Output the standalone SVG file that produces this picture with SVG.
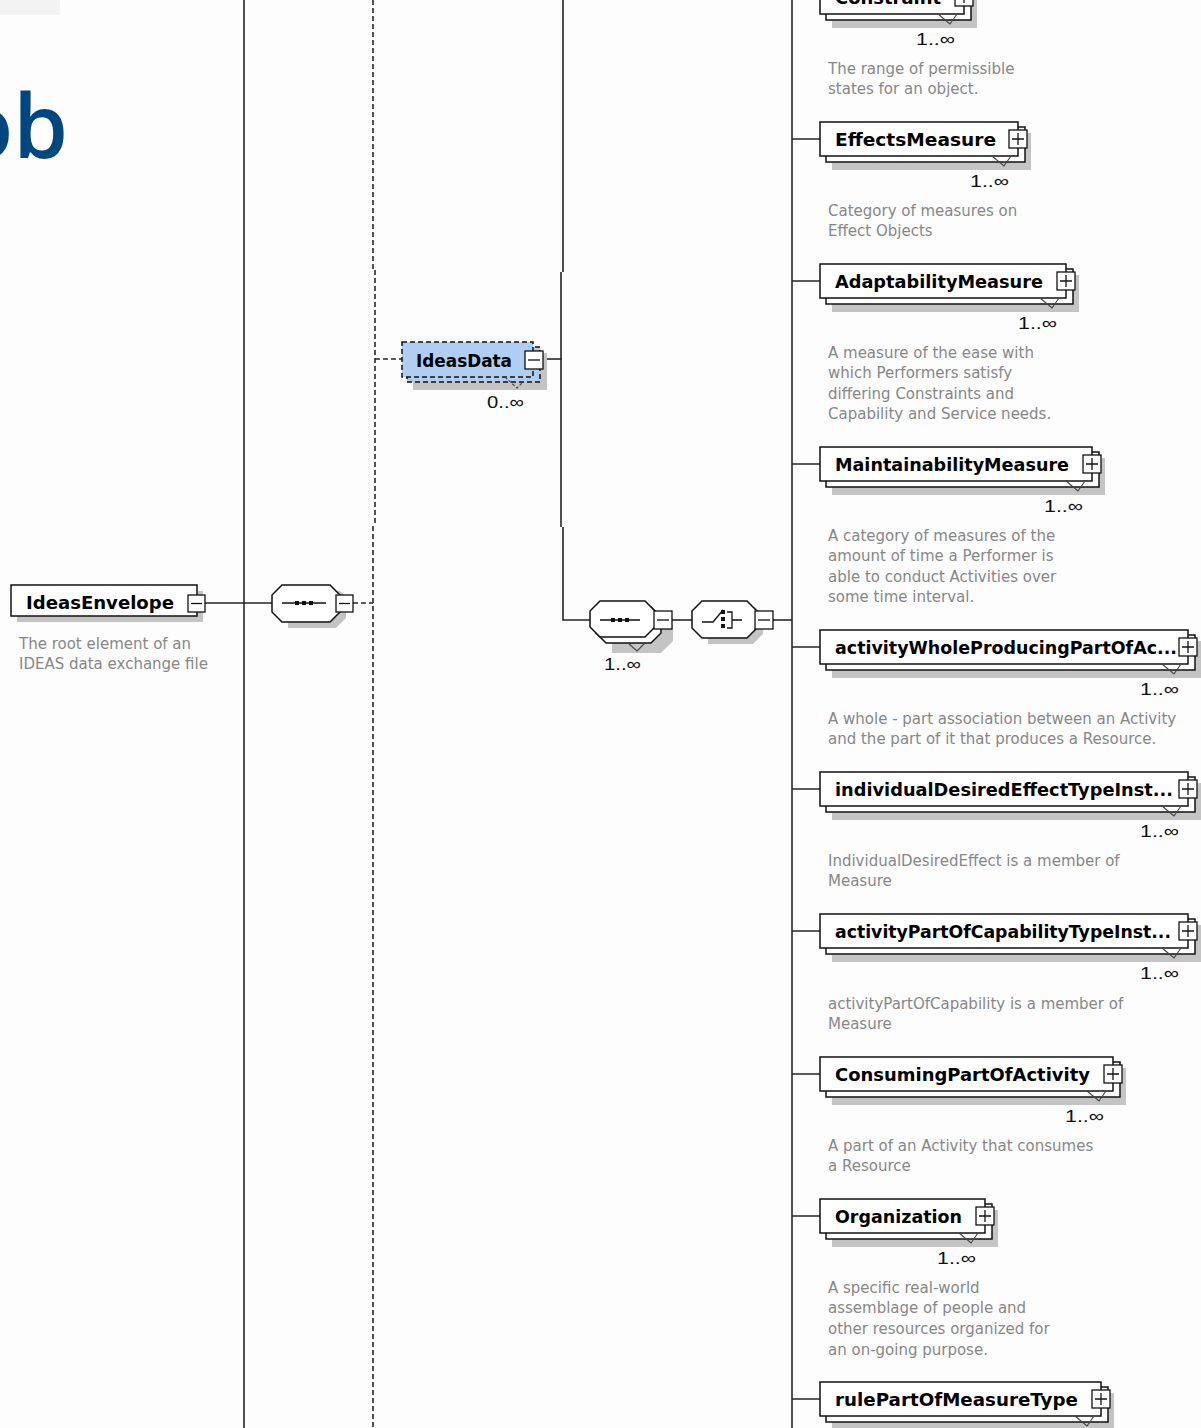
<svg xmlns="http://www.w3.org/2000/svg" width="1201" height="1428" viewBox="0 0 1201 1428">
  <style>
    .bg { fill: #fdfdfd; }
    .line { stroke: #262626; stroke-width: 1.6; fill: none; }
    .dash { stroke-dasharray: 5 3; }
    .box { fill: #ffffff; stroke: #111111; stroke-width: 1.5; }
    .dbox { fill: #b0cdf2; stroke: #111111; stroke-width: 1.5; stroke-dasharray: 5 3; }
    .shadow { fill: #c4c4c4; }
    .tri { stroke: #444444; stroke-width: 1.1; fill: none; }
    .btn { fill: #ffffff; stroke: #111111; stroke-width: 1.3; }
    .sign { stroke: #111111; stroke-width: 1.3; fill: none; }
    .lbl { font-family: "DejaVu Sans", Verdana, sans-serif; font-weight: bold; font-size: 18px; fill: #000000; }
    .desc { font-family: "DejaVu Sans", Tahoma, sans-serif; font-size: 15px; fill: #878787; }
    .card { font-family: "Liberation Sans", Arial, sans-serif; font-size: 17px; fill: #111111; }
    .logo { font-family: "Open Sans", "Liberation Sans", sans-serif; font-weight: 600; font-size: 88px; fill: #00467f; }
    .sym { fill: #111111; }
  </style>

  <rect class="bg" x="0" y="0" width="1201" height="1428"/>
  <rect x="0" y="0" width="60" height="15" fill="#f3f3f3"/>
  <text class="logo" x="68" y="158" text-anchor="end">ob</text>

  <!-- connectors -->
  <g id="connectors">
    <line class="line" x1="244" y1="0" x2="244" y2="1428"/>
    <path class="line dash" d="M373,0 V270 M375,270 V526 M373,526 V1428"/>
    <path class="line" d="M563,0 V272 M561,272 V527 M563,527 V620 H590"/>
    <line class="line" x1="205" y1="603" x2="272" y2="603"/>
    <line class="line dash" x1="353" y1="603" x2="373" y2="603"/>
    <line class="line dash" x1="375" y1="359" x2="402" y2="359"/>
    <line class="line" x1="543" y1="359" x2="562" y2="359"/>
    <line class="line" x1="672" y1="620" x2="692" y2="620"/>
    <line class="line" x1="773" y1="620" x2="792" y2="620"/>
    <line class="line" x1="792" y1="0" x2="792" y2="1428"/>
    <path class="line" d="M792,-3 H820 M792,139 H820 M792,281 H820 M792,464 H820 M792,647 H820 M792,789 H820 M792,931 H820 M792,1074 H820 M792,1216 H820 M792,1399 H820"/>
  </g>

  <!-- root element -->
  <g id="IdeasEnvelope">
    <rect class="shadow" x="17" y="591" width="186" height="31"/>
    <rect class="box" x="11" y="585" width="186" height="31"/>
    <text class="lbl" x="26" y="609" textLength="148" lengthAdjust="spacingAndGlyphs">IdeasEnvelope</text>
    <rect class="btn" x="188" y="595" width="17" height="17"/>
    <line class="sign" x1="191" y1="603.5" x2="202" y2="603.5"/>
    <text class="desc" x="19" y="649">The root element of an</text>
    <text class="desc" x="19" y="669">IDEAS data exchange file</text>
  </g>

  <!-- sequence under IdeasEnvelope -->
  <g id="seq-envelope">
    <polygon class="shadow" points="288,591 340,591 346,597 346,618 336,628 288,628"/>
    <polygon class="box" points="282,585 330,585 340,595 340,612 330,622 282,622 272,612 272,595"/>
    <line class="sign" x1="282" y1="603" x2="326" y2="603"/>
    <rect class="sym" x="295" y="601" width="4" height="4"/>
    <rect class="sym" x="302" y="601" width="4" height="4"/>
    <rect class="sym" x="309" y="601" width="4" height="4"/>
    <rect class="btn" x="336" y="595" width="17" height="17"/>
    <line class="sign" x1="339" y1="603.5" x2="350" y2="603.5"/>
  </g>

  <!-- optional data element -->
  <g id="IdeasData">
    <rect class="shadow" x="413" y="353" width="134" height="37"/>
    <rect class="dbox" x="407" y="347" width="133" height="35"/>
    <rect class="dbox" x="402" y="342" width="131" height="35"/>
    <polyline class="tri" points="505,377 517,388 523,382" stroke-dasharray="3 2"/>
    <text class="lbl" x="416" y="367" textLength="96" lengthAdjust="spacingAndGlyphs">IdeasData</text>
    <rect class="btn" x="525" y="351" width="18" height="18"/>
    <line class="sign" x1="528" y1="360" x2="540" y2="360"/>
    <text class="card" x="487" y="408" textLength="37" lengthAdjust="spacingAndGlyphs">0..∞</text>
  </g>

  <!-- repeated sequence -->
  <g id="seq-data">
    <polygon class="shadow" points="612,613 661,613 673,625 673,641 661,653 612,653"/>
    <polygon class="box" points="606,607 651,607 661,617 661,633 651,643 606,643 596,633 596,617"/>
    <polygon class="box" points="600,601 645,601 655,611 655,627 645,637 600,637 590,627 590,611"/>
    <polyline class="tri" points="628,643 637,651 645,643"/>
    <line class="sign" x1="600" y1="620" x2="640" y2="620"/>
    <rect class="sym" x="611" y="618" width="4" height="4"/>
    <rect class="sym" x="618" y="618" width="4" height="4"/>
    <rect class="sym" x="625" y="618" width="4" height="4"/>
    <rect class="btn" x="654" y="611" width="18" height="18"/>
    <line class="sign" x1="657" y1="620" x2="669" y2="620"/>
    <text class="card" x="604" y="670" textLength="37" lengthAdjust="spacingAndGlyphs">1..∞</text>
  </g>

  <!-- choice -->
  <g id="choice">
    <polygon class="shadow" points="708,607 755,607 763,615 763,634 753,644 708,644"/>
    <polygon class="box" points="702,601 747,601 757,611 757,628 747,638 702,638 692,628 692,611"/>
    <polyline class="sign" points="702,622 713,622 723,610"/>
    <rect class="sym" x="721" y="610" width="4" height="4"/>
    <rect class="sym" x="721" y="617" width="4" height="4"/>
    <rect class="sym" x="721" y="624" width="4" height="4"/>
    <path class="sign" d="M727,612 H732 V628 H727 M732,620 H742"/>
    <rect class="btn" x="755" y="611" width="18" height="18"/>
    <line class="sign" x1="758" y1="620" x2="770" y2="620"/>
  </g>

  <!-- child elements -->
  <g id="Constraint">
    <rect class="shadow" x="832" y="-9" width="145" height="37"/>
    <rect class="box" x="826" y="-15" width="145" height="35"/>
    <rect class="box" x="820" y="-20" width="144" height="34"/>
    <polyline class="tri" points="938,14 950,24 957,14"/>
    <text class="lbl" x="835" y="4" textLength="106" lengthAdjust="spacingAndGlyphs">Constraint</text>
    <rect class="btn" x="955" y="-12" width="18" height="18"/>
    <path class="sign" d="M958,-3 H970 M964,-9 V3"/>
    <text class="card" x="916" y="45" textLength="39" lengthAdjust="spacingAndGlyphs">1..∞</text>
    <text class="desc" x="828" y="74">The range of permissible</text>
    <text class="desc" x="828" y="94">states for an object.</text>
  </g>

  <g id="EffectsMeasure">
    <rect class="shadow" x="832" y="133" width="199" height="37"/>
    <rect class="box" x="826" y="127" width="199" height="35"/>
    <rect class="box" x="820" y="122" width="198" height="34"/>
    <polyline class="tri" points="992,156 1004,166 1011,156"/>
    <text class="lbl" x="835" y="146" textLength="161" lengthAdjust="spacingAndGlyphs">EffectsMeasure</text>
    <rect class="btn" x="1009" y="130" width="18" height="18"/>
    <path class="sign" d="M1012,139 H1024 M1018,133 V145"/>
    <text class="card" x="970" y="187" textLength="39" lengthAdjust="spacingAndGlyphs">1..∞</text>
    <text class="desc" x="828" y="216">Category of measures on</text>
    <text class="desc" x="828" y="236">Effect Objects</text>
  </g>

  <g id="AdaptabilityMeasure">
    <rect class="shadow" x="832" y="275" width="247" height="37"/>
    <rect class="box" x="826" y="269" width="247" height="35"/>
    <rect class="box" x="820" y="264" width="246" height="34"/>
    <polyline class="tri" points="1040,298 1052,308 1059,298"/>
    <text class="lbl" x="835" y="288" textLength="208" lengthAdjust="spacingAndGlyphs">AdaptabilityMeasure</text>
    <rect class="btn" x="1057" y="272" width="18" height="18"/>
    <path class="sign" d="M1060,281 H1072 M1066,275 V287"/>
    <text class="card" x="1018" y="329" textLength="39" lengthAdjust="spacingAndGlyphs">1..∞</text>
    <text class="desc" x="828" y="358">A measure of the ease with</text>
    <text class="desc" x="828" y="378">which Performers satisfy</text>
    <text class="desc" x="828" y="399">differing Constraints and</text>
    <text class="desc" x="828" y="419">Capability and Service needs.</text>
  </g>

  <g id="MaintainabilityMeasure">
    <rect class="shadow" x="832" y="458" width="273" height="37"/>
    <rect class="box" x="826" y="452" width="273" height="35"/>
    <rect class="box" x="820" y="447" width="272" height="34"/>
    <polyline class="tri" points="1066,481 1078,491 1085,481"/>
    <text class="lbl" x="835" y="471" textLength="234" lengthAdjust="spacingAndGlyphs">MaintainabilityMeasure</text>
    <rect class="btn" x="1083" y="455" width="18" height="18"/>
    <path class="sign" d="M1086,464 H1098 M1092,458 V470"/>
    <text class="card" x="1044" y="512" textLength="39" lengthAdjust="spacingAndGlyphs">1..∞</text>
    <text class="desc" x="828" y="541">A category of measures of  the</text>
    <text class="desc" x="828" y="561">amount of time a Performer is</text>
    <text class="desc" x="828" y="582">able to conduct Activities over</text>
    <text class="desc" x="828" y="602">some time interval.</text>
  </g>

  <g id="activityWholeProducingPartOfActivity">
    <rect class="shadow" x="832" y="641" width="369" height="37"/>
    <rect class="box" x="826" y="635" width="369" height="35"/>
    <rect class="box" x="820" y="630" width="368" height="34"/>
    <polyline class="tri" points="1162,664 1174,674 1181,664"/>
    <text class="lbl" x="835" y="654" textLength="342" lengthAdjust="spacingAndGlyphs">activityWholeProducingPartOfAc...</text>
    <rect class="btn" x="1179" y="638" width="18" height="18"/>
    <path class="sign" d="M1182,647 H1194 M1188,641 V653"/>
    <text class="card" x="1140" y="695" textLength="39" lengthAdjust="spacingAndGlyphs">1..∞</text>
    <text class="desc" x="828" y="724">A whole - part association between an Activity</text>
    <text class="desc" x="828" y="744">and the part of it that produces a Resource.</text>
  </g>

  <g id="individualDesiredEffectTypeInstance">
    <rect class="shadow" x="832" y="783" width="369" height="37"/>
    <rect class="box" x="826" y="777" width="369" height="35"/>
    <rect class="box" x="820" y="772" width="368" height="34"/>
    <polyline class="tri" points="1162,806 1174,816 1181,806"/>
    <text class="lbl" x="835" y="796" textLength="338" lengthAdjust="spacingAndGlyphs">individualDesiredEffectTypeInst...</text>
    <rect class="btn" x="1179" y="780" width="18" height="18"/>
    <path class="sign" d="M1182,789 H1194 M1188,783 V795"/>
    <text class="card" x="1140" y="837" textLength="39" lengthAdjust="spacingAndGlyphs">1..∞</text>
    <text class="desc" x="828" y="866">IndividualDesiredEffect is a member of</text>
    <text class="desc" x="828" y="886">Measure</text>
  </g>

  <g id="activityPartOfCapabilityTypeInstance">
    <rect class="shadow" x="832" y="925" width="369" height="37"/>
    <rect class="box" x="826" y="919" width="369" height="35"/>
    <rect class="box" x="820" y="914" width="368" height="34"/>
    <polyline class="tri" points="1162,948 1174,958 1181,948"/>
    <text class="lbl" x="835" y="938" textLength="336" lengthAdjust="spacingAndGlyphs">activityPartOfCapabilityTypeInst...</text>
    <rect class="btn" x="1179" y="922" width="18" height="18"/>
    <path class="sign" d="M1182,931 H1194 M1188,925 V937"/>
    <text class="card" x="1140" y="979" textLength="39" lengthAdjust="spacingAndGlyphs">1..∞</text>
    <text class="desc" x="828" y="1009">activityPartOfCapability is a member of</text>
    <text class="desc" x="828" y="1029">Measure</text>
  </g>

  <g id="ConsumingPartOfActivity">
    <rect class="shadow" x="832" y="1068" width="294" height="37"/>
    <rect class="box" x="826" y="1062" width="294" height="35"/>
    <rect class="box" x="820" y="1057" width="293" height="34"/>
    <polyline class="tri" points="1087,1091 1099,1101 1106,1091"/>
    <text class="lbl" x="835" y="1081" textLength="255" lengthAdjust="spacingAndGlyphs">ConsumingPartOfActivity</text>
    <rect class="btn" x="1104" y="1065" width="18" height="18"/>
    <path class="sign" d="M1107,1074 H1119 M1113,1068 V1080"/>
    <text class="card" x="1065" y="1122" textLength="39" lengthAdjust="spacingAndGlyphs">1..∞</text>
    <text class="desc" x="828" y="1151">A part of an Activity that consumes</text>
    <text class="desc" x="828" y="1171">a Resource</text>
  </g>

  <g id="Organization">
    <rect class="shadow" x="832" y="1210" width="166" height="37"/>
    <rect class="box" x="826" y="1204" width="166" height="35"/>
    <rect class="box" x="820" y="1199" width="165" height="34"/>
    <polyline class="tri" points="959,1233 971,1243 978,1233"/>
    <text class="lbl" x="835" y="1223" textLength="127" lengthAdjust="spacingAndGlyphs">Organization</text>
    <rect class="btn" x="976" y="1207" width="18" height="18"/>
    <path class="sign" d="M979,1216 H991 M985,1210 V1222"/>
    <text class="card" x="937" y="1264" textLength="39" lengthAdjust="spacingAndGlyphs">1..∞</text>
    <text class="desc" x="828" y="1293">A specific real-world</text>
    <text class="desc" x="828" y="1313">assemblage of people and</text>
    <text class="desc" x="828" y="1334">other resources organized for</text>
    <text class="desc" x="828" y="1355">an on-going purpose.</text>
  </g>

  <g id="rulePartOfMeasureType">
    <rect class="shadow" x="832" y="1393" width="282" height="37"/>
    <rect class="box" x="826" y="1387" width="282" height="35"/>
    <rect class="box" x="820" y="1382" width="281" height="34"/>
    <polyline class="tri" points="1075,1416 1087,1426 1094,1416"/>
    <text class="lbl" x="835" y="1406" textLength="243" lengthAdjust="spacingAndGlyphs">rulePartOfMeasureType</text>
    <rect class="btn" x="1092" y="1390" width="18" height="18"/>
    <path class="sign" d="M1095,1399 H1107 M1101,1393 V1405"/>
  </g>
</svg>
